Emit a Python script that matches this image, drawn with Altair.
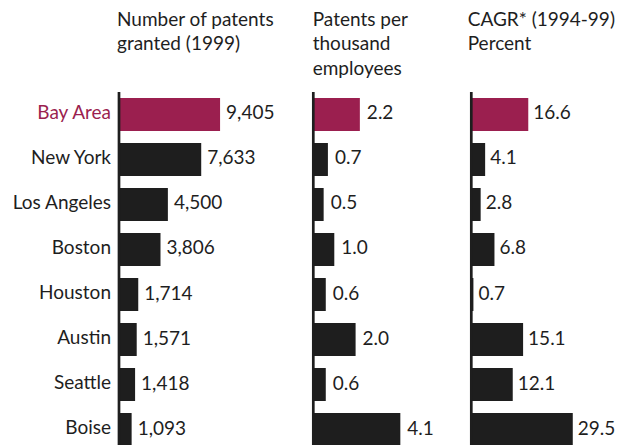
import altair as alt
import pandas as pd

cities = ["Bay Area", "New York", "Los Angeles", "Boston", "Houston", "Austin", "Seattle", "Boise"]
patents = [9405, 7633, 4500, 3806, 1714, 1571, 1418, 1093]
per_thousand = [2.2, 0.7, 0.5, 1.0, 0.6, 2.0, 0.6, 4.1]
cagr = [16.6, 4.1, 2.8, 6.8, 0.7, 15.1, 12.1, 29.5]
title_patents = ["Number of patents", "granted (1999)"]
title_per = ["Patents per", "thousand", "employees"]
title_cagr = ["CAGR* (1994-99)", "Percent"]

df = pd.DataFrame({"city": cities, "patents": patents,
                   "per_thousand": per_thousand, "cagr": cagr})

CRIMSON = "#9B1F4F"
DARK = "#1E1E1E"
FONT = "Lato"
FS = 19

y = alt.Y("city:N", sort=cities, axis=None,
          scale=alt.Scale(range=[84, 444], paddingInner=0.267, paddingOuter=0.133))
color = alt.condition(alt.datum.city == "Bay Area", alt.value(CRIMSON), alt.value(DARK))
one = alt.Data(values=[{"a": 1}])


def panel(field, domain, rng, fmt, title_lines, rule_x, title_x, dx):
    x = alt.X(f"{field}:Q", axis=None, scale=alt.Scale(domain=domain, range=rng))
    base = alt.Chart(df)
    bars = base.mark_bar().encode(x=x, y=y, color=color)
    labels = base.mark_text(align="left", baseline="alphabetic", dx=dx, dy=5,
                            font=FONT, fontSize=FS, color=DARK).encode(
        x=x, y=y, text=alt.Text(f"{field}:Q", format=fmt))
    rule = alt.Chart(one).mark_rule(color=DARK, strokeWidth=2.7).encode(
        x=alt.value(rule_x), y=alt.value(84), y2=alt.value(445))
    title = alt.Chart(one).mark_text(text=title_lines, align="left", baseline="alphabetic",
                                     lineHeight=24.5, font=FONT, fontSize=FS,
                                     color=DARK).encode(x=alt.value(title_x), y=alt.value(17.5))
    return alt.layer(bars, labels, rule, title)


p1 = panel("patents", [0, 10000], [112, 218.4], ",d", title_patents, 111, 109, 6)
cats = alt.Chart(df).mark_text(align="right", baseline="alphabetic", dy=4.5,
                               font=FONT, fontSize=FS).encode(
    x=alt.value(103), y=y, text="city:N", color=color)
p1 = alt.layer(p1, cats)
p2 = panel("per_thousand", [0, 5], [305, 411.5], ".1f", title_per, 305.3, 304.7, 7)
p3 = panel("cagr", [0, 30], [463, 566.5], ".1f", title_cagr, 463.3, 459.7, 5)

chart = alt.layer(p1, p2, p3).resolve_scale(x="independent").properties(
    width=608, height=437, padding=0,
    autosize=alt.AutoSizeParams(type="none"),
).configure_view(stroke=None)

chart.save("out.html", embed_options={"renderer": "svg", "actions": False})
